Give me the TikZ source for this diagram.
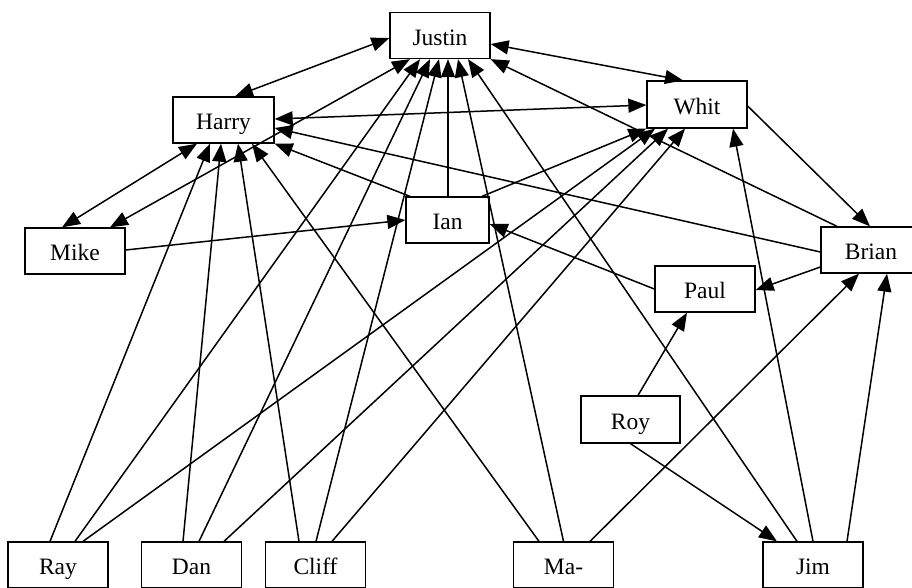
\documentclass[tikz,border=0pt]{standalone}
\usepackage{fontspec}
\setmainfont{Liberation Serif}
\usetikzlibrary{arrows.meta}
\begin{document}
\begin{tikzpicture}[x=1pt,y=-1pt,
  person/.style={draw, line width=1.3pt, rectangle, minimum width=100pt, minimum height=46pt, inner sep=0pt, text height=19pt, text depth=0pt, font=\fontsize{23.5}{28}\selectfont},
  arr/.style={line width=1.5pt, -{Triangle[length=18pt,width=14pt]}},
  biarr/.style={line width=1.5pt, {Triangle[length=18pt,width=14pt]}-{Triangle[length=18pt,width=14pt]}}]
\useasboundingbox (0,0) rectangle (912,587);
\clip (0,0) rectangle (912,587);
% nodes
\node[person] (justin) at (440,35.5) {Justin};
\node[person, minimum width=101pt] (harry) at (223.5,120) {Harry};
\node[person, minimum height=47pt] (whit) at (697,104.5) {Whit};
\node[person] (mike) at (75,251) {Mike};
\node[person, minimum width=83pt] (ian) at (447.5,220) {Ian};
\node[person] (brian) at (871,250) {Brian};
\node[person] (paul) at (705,289) {Paul};
\node[person, minimum width=99pt, minimum height=47pt] (roy) at (630.5,419.5) {Roy};
\node[person] (ray) at (58,565) {Ray};
\node[person] (dan) at (191.5,565) {Dan};
\node[person] (cliff) at (315.5,565) {Cliff};
\node[person] (ma) at (563.5,565) {Ma-};
\node[person] (jim) at (813,565) {Jim};
% bidirectional edges
\draw[biarr] ([xshift=11.5pt]harry.north) -- ([yshift=-2.5pt]justin.west);
\draw[biarr] ([yshift=-8.5pt]justin.east) -- ([xshift=-14pt]whit.north);
\draw[biarr] ([yshift=1pt]harry.east) -- ([yshift=-0.5pt]whit.west);
\draw[biarr] ([xshift=-26.5pt]harry.south) -- ([xshift=-13pt]mike.north);
\draw[biarr] ([xshift=-30pt]justin.south) -- ([xshift=35pt]mike.north);
% directed edges
\draw[arr] ([yshift=1pt]mike.east) -- (ian.west);
\draw[arr] ([xshift=0.5pt]ian.north) -- ([xshift=8pt]justin.south);
\draw[arr] ([xshift=-37.5pt]ian.north) -- (harry.south east);
\draw[arr] ([xshift=34.5pt]ian.north) -- (whit.south west);
\draw[arr] (paul.west) -- ([yshift=-4pt]ian.east);
\draw[arr] ([yshift=-17pt]brian.west) -- ([yshift=-1pt]paul.east);
\draw[arr] ([yshift=-2pt]brian.west) -- ([yshift=-8pt]harry.east);
\draw[arr] ([xshift=-34pt]brian.north) -- (justin.south east);
\draw[arr] ([yshift=-1.5pt]whit.east) -- ([xshift=-1pt]brian.north);
\draw[arr] ([xshift=7.5pt]roy.north) -- ([xshift=-18pt]paul.south);
\draw[arr] (roy.south) -- ([xshift=-36pt]jim.north);
\draw[arr] ([xshift=-16pt]jim.north) -- ([xshift=28pt]justin.south);
\draw[arr] (jim.north) -- ([xshift=36pt]whit.south);
\draw[arr] ([xshift=34pt]jim.north) -- ([xshift=16pt]brian.south);
\draw[arr] ([xshift=26.5pt]ma.north) -- ([xshift=-12pt]brian.south);
\draw[arr] (ma.north) -- ([xshift=18pt]justin.south);
\draw[arr] ([xshift=-24.5pt]ma.north) -- ([xshift=28.5pt]harry.south);
\draw[arr] ([xshift=-8pt]ray.north) -- ([xshift=-13.5pt]harry.south);
\draw[arr] ([xshift=17pt]ray.north) -- ([xshift=-20pt]justin.south);
\draw[arr] ([xshift=25pt]ray.north) -- ([xshift=-42pt]whit.south);
\draw[arr] ([xshift=-8.5pt]dan.north) -- ([xshift=-2.5pt]harry.south);
\draw[arr] ([xshift=7.5pt]dan.north) -- ([xshift=-10pt]justin.south);
\draw[arr] ([xshift=32.5pt]dan.north) -- ([xshift=-29pt]whit.south);
\draw[arr] ([xshift=-16.5pt]cliff.north) -- ([xshift=14.5pt]harry.south);
\draw[arr] ([xshift=0.5pt]cliff.north) -- ([xshift=-1pt]justin.south);
\draw[arr] ([xshift=16.5pt]cliff.north) -- ([xshift=-12pt]whit.south);
\end{tikzpicture}
\end{document}
